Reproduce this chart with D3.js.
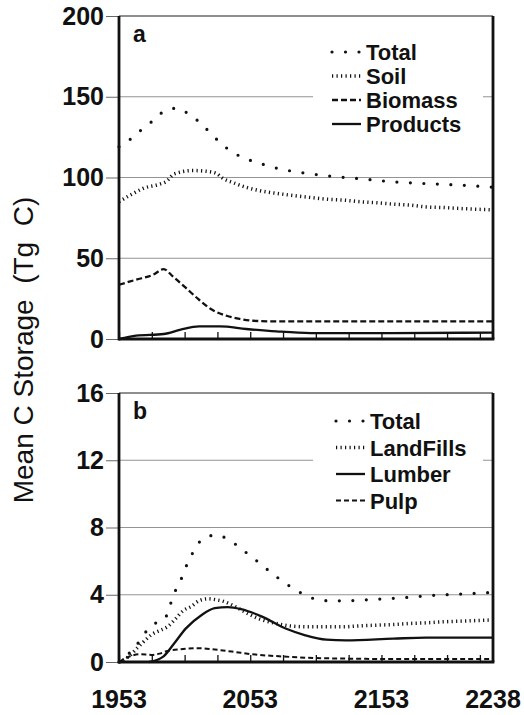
<!DOCTYPE html>
<html>
<head>
<meta charset="utf-8">
<script src="https://cdn.jsdelivr.net/npm/d3@7"></script>
<style>
  body { margin: 0; background: #fff; }
  text { font-family: "Liberation Sans", Arial, sans-serif; fill: #111; }
</style>
</head>
<body>
<div id="chart"></div>
<script>
// Panel a: carbon pools (Tg C)
const totalYears = [1953, 1961, 1970, 1978, 1987, 1997, 2007, 2016, 2024, 2032, 2041, 2052, 2062, 2073, 2095, 2117, 2140, 2162, 2185, 2208, 2238];
const totalValues = [119, 123.3, 129.5, 134.6, 140.8, 142.9, 138.8, 133, 126.4, 120.2, 115, 110.9, 108.3, 105.8, 102.7, 100.6, 99, 97.3, 96.3, 95.5, 94];

const soilYears = [1953, 1962, 1972, 1984, 1989, 1995, 2009, 2021, 2027, 2032, 2040, 2050, 2060, 2073, 2086, 2098, 2111, 2124, 2137, 2149, 2162, 2175, 2187, 2200, 2213, 2238];
const soilValues = [85, 89.3, 93.4, 95.9, 97.5, 102.2, 104.3, 103.7, 102.6, 99.5, 96.8, 93.9, 91.9, 90.2, 88.8, 87.7, 86.6, 86, 85, 84.4, 83.5, 82.9, 81.8, 81.4, 80.8, 80];

const biomassYears = [1953, 1966, 1979, 1987, 1994, 2004, 2014, 2024, 2035, 2045, 2055, 2073, 2238];
const biomassValues = [33.6, 36.7, 39.8, 43.3, 38.8, 31.6, 24.3, 18.1, 14.4, 12.4, 11.3, 10.9, 10.9];

const productsYears = [1953, 1966, 1987, 2000, 2014, 2030, 2050, 2073, 2099, 2160, 2238];
const productsValues = [0, 2.1, 3.1, 5.8, 7.8, 7.8, 6.2, 4.7, 3.7, 3.7, 4];

// Panel b: product pools (Tg C)
const bTotalYears = [1953, 1959, 1965, 1971, 1978, 1988, 1992, 1996, 2001, 2005, 2010, 2017, 2027, 2037, 2046, 2055, 2064, 2073, 2082, 2091, 2101, 2113, 2124, 2146, 2169, 2192, 2214, 2238];
const bTotalValues = [0, 0.4, 0.84, 1.54, 2.18, 2.58, 3.4, 4.24, 5.04, 5.84, 6.6, 7.34, 7.55, 7.26, 6.74, 6.2, 5.63, 5.07, 4.57, 4.14, 3.78, 3.64, 3.64, 3.72, 3.82, 3.96, 4.04, 4.14];

const landfillYears = [1953, 1960, 1967, 1973, 1978, 1985, 1990, 1996, 2002, 2008, 2014, 2021, 2027, 2033, 2039, 2052, 2060, 2073, 2085, 2098, 2111, 2124, 2136, 2149, 2162, 2174, 2187, 2200, 2213, 2238];
const landfillValues = [0, 0.3, 0.84, 1.3, 1.64, 1.9, 2.1, 2.56, 3.06, 3.3, 3.64, 3.76, 3.7, 3.6, 3.4, 2.84, 2.56, 2.29, 2.13, 2.09, 2.09, 2.09, 2.15, 2.19, 2.23, 2.29, 2.33, 2.39, 2.43, 2.5];

const lumberYears = [1976, 1987, 1995, 2004, 2016, 2026, 2036, 2046, 2062, 2080, 2095, 2111, 2126, 2162, 2187, 2238];
const lumberValues = [0, 0.34, 1.1, 2.0, 2.8, 3.2, 3.26, 3.14, 2.7, 1.99, 1.59, 1.33, 1.29, 1.39, 1.45, 1.45];

const pulpYears = [1953, 1960, 1969, 1978, 1984, 1990, 2000, 2013, 2026, 2039, 2057, 2075, 2101, 2126, 2160, 2238];
const pulpValues = [0, 0.3, 0.46, 0.42, 0.5, 0.66, 0.76, 0.82, 0.74, 0.62, 0.44, 0.34, 0.24, 0.2, 0.18, 0.18];

const yTicksA = [0, 50, 100, 150, 200];
const yTicksB = [0, 4, 8, 12, 16];
const minorYears = d3.range(1953, 2238, 25);
const xLabelYears = [1953, 2053, 2153, 2238];

// line styles
const styles = {
    total:  {width: 3.2, dash: "0,13.5", cap: "round"},
    dotted: {width: 3.5, dash: "1.2,3.3", cap: "butt"},
    dashed: {width: 2.3, dash: "6,3", cap: "butt"},
    pulp:   {width: 2, dash: "5,3", cap: "butt"},
    solid:  {width: 2.3, dash: null, cap: "butt"}
};

const W = 524, H = 715;
const svg = d3.select("#chart").append("svg")
    .attr("width", W)
    .attr("height", H);

const x = d3.scaleLinear().domain([1953, 2238]).range([119, 493]);

function drawPanel(cfg) {
    const y = d3.scaleLinear().domain([0, cfg.ymax]).range([cfg.bottom, cfg.top]);
    const g = svg.append("g");

    // gridlines
    g.selectAll(".grid")
        .data(cfg.ticks.filter(d => d > 0))
        .join("line")
        .attr("x1", 119).attr("x2", 493)
        .attr("y1", d => y(d)).attr("y2", d => y(d))
        .attr("stroke", "#888").attr("stroke-width", 0.9);

    // y axis
    const yAxis = g.append("g")
        .attr("transform", "translate(119,0)")
        .call(d3.axisLeft(y).tickValues(cfg.ticks).tickSize(13).tickPadding(2));
    yAxis.select(".domain").remove();
    yAxis.selectAll("line").attr("stroke", "#555").attr("stroke-width", 0.9);
    yAxis.selectAll("text")
        .attr("font-size", 25).attr("font-weight", "bold")
        .attr("font-family", "'Liberation Sans', Arial, sans-serif")
        .attr("fill", "#111");

    // minor x ticks pointing up
    const xAxis = g.append("g")
        .attr("transform", `translate(0,${cfg.bottom})`)
        .call(d3.axisBottom(x).tickValues(minorYears).tickSize(-7).tickFormat(""));
    xAxis.select(".domain").remove();
    xAxis.selectAll("line").attr("stroke", "#111").attr("stroke-width", 1.3);

    // white box behind legend
    g.append("rect")
        .attr("x", 313).attr("y", cfg.legendTop - 14)
        .attr("width", 170).attr("height", cfg.legendStep * 4 + 6)
        .attr("fill", "#fff");

    // series
    const line = d3.line()
        .x(d => x(d[0]))
        .y(d => y(d[1]))
        .curve(d3.curveMonotoneX);

    cfg.series.forEach(s => {
        const st = styles[s.style];
        g.append("path")
            .datum(s.years.map((yr, i) => [yr, s.values[i]]))
            .attr("d", line)
            .attr("fill", "none")
            .attr("stroke", "#111")
            .attr("stroke-width", st.width)
            .attr("stroke-linecap", st.cap)
            .attr("stroke-dasharray", st.dash);
    });

    // frame
    g.append("line").attr("x1", 119).attr("x2", 493).attr("y1", cfg.top).attr("y2", cfg.top)
        .attr("stroke", "#555").attr("stroke-width", 1);
    g.append("line").attr("x1", 493).attr("x2", 493).attr("y1", cfg.top).attr("y2", cfg.bottom)
        .attr("stroke", "#111").attr("stroke-width", 2.8);
    g.append("line").attr("x1", 119).attr("x2", 119).attr("y1", cfg.top).attr("y2", cfg.bottom + 1.4)
        .attr("stroke", "#111").attr("stroke-width", 2.8);
    g.append("line").attr("x1", 119).attr("x2", 494.4).attr("y1", cfg.bottom).attr("y2", cfg.bottom)
        .attr("stroke", "#111").attr("stroke-width", 2.8);

    // panel letter
    g.append("text")
        .attr("x", 133).attr("y", cfg.top + 26)
        .attr("font-size", 23).attr("font-weight", "bold")
        .text(cfg.letter);

    // legend
    cfg.series.forEach((s, i) => {
        const st = styles[s.style];
        const cy = cfg.legendTop + i * cfg.legendStep;
        g.append("line")
            .attr("x1", cfg.legendX - 34).attr("x2", cfg.legendX - 5)
            .attr("y1", cy).attr("y2", cy)
            .attr("stroke", "#111")
            .attr("stroke-width", st.width)
            .attr("stroke-linecap", st.cap)
            .attr("stroke-dasharray", st.dash);
        g.append("text")
            .attr("x", cfg.legendX).attr("y", cy + 8)
            .attr("font-size", 22).attr("font-weight", "bold")
            .text(s.name);
    });
    return y;
}

drawPanel({
    top: 16, bottom: 339, ymax: 200, ticks: yTicksA, letter: "a",
    legendX: 366, legendTop: 52, legendStep: 24,
    series: [
        {name: "Total", years: totalYears, values: totalValues, style: "total"},
        {name: "Soil", years: soilYears, values: soilValues, style: "dotted"},
        {name: "Biomass", years: biomassYears, values: biomassValues, style: "dashed"},
        {name: "Products", years: productsYears, values: productsValues, style: "solid"}
    ]
});

drawPanel({
    top: 393, bottom: 662, ymax: 16, ticks: yTicksB, letter: "b",
    legendX: 370, legendTop: 421, legendStep: 26.5,
    series: [
        {name: "Total", years: bTotalYears, values: bTotalValues, style: "total"},
        {name: "LandFills", years: landfillYears, values: landfillValues, style: "dotted"},
        {name: "Lumber", years: lumberYears, values: lumberValues, style: "solid"},
        {name: "Pulp", years: pulpYears, values: pulpValues, style: "pulp"}
    ]
});

// x labels under panel b
svg.append("g").selectAll("text")
    .data(xLabelYears)
    .join("text")
    .attr("x", d => x(d))
    .attr("y", 708)
    .attr("text-anchor", "middle")
    .attr("font-size", 25).attr("font-weight", "bold")
    .text(d => d);

// y axis title
svg.append("text")
    .attr("transform", "rotate(-90)")
    .attr("x", -350)
    .attr("y", 33)
    .attr("text-anchor", "middle")
    .attr("font-size", 28)
    .style("white-space", "pre")
    .text("Mean C Storage  (Tg  C)");
</script>
</body>
</html>
